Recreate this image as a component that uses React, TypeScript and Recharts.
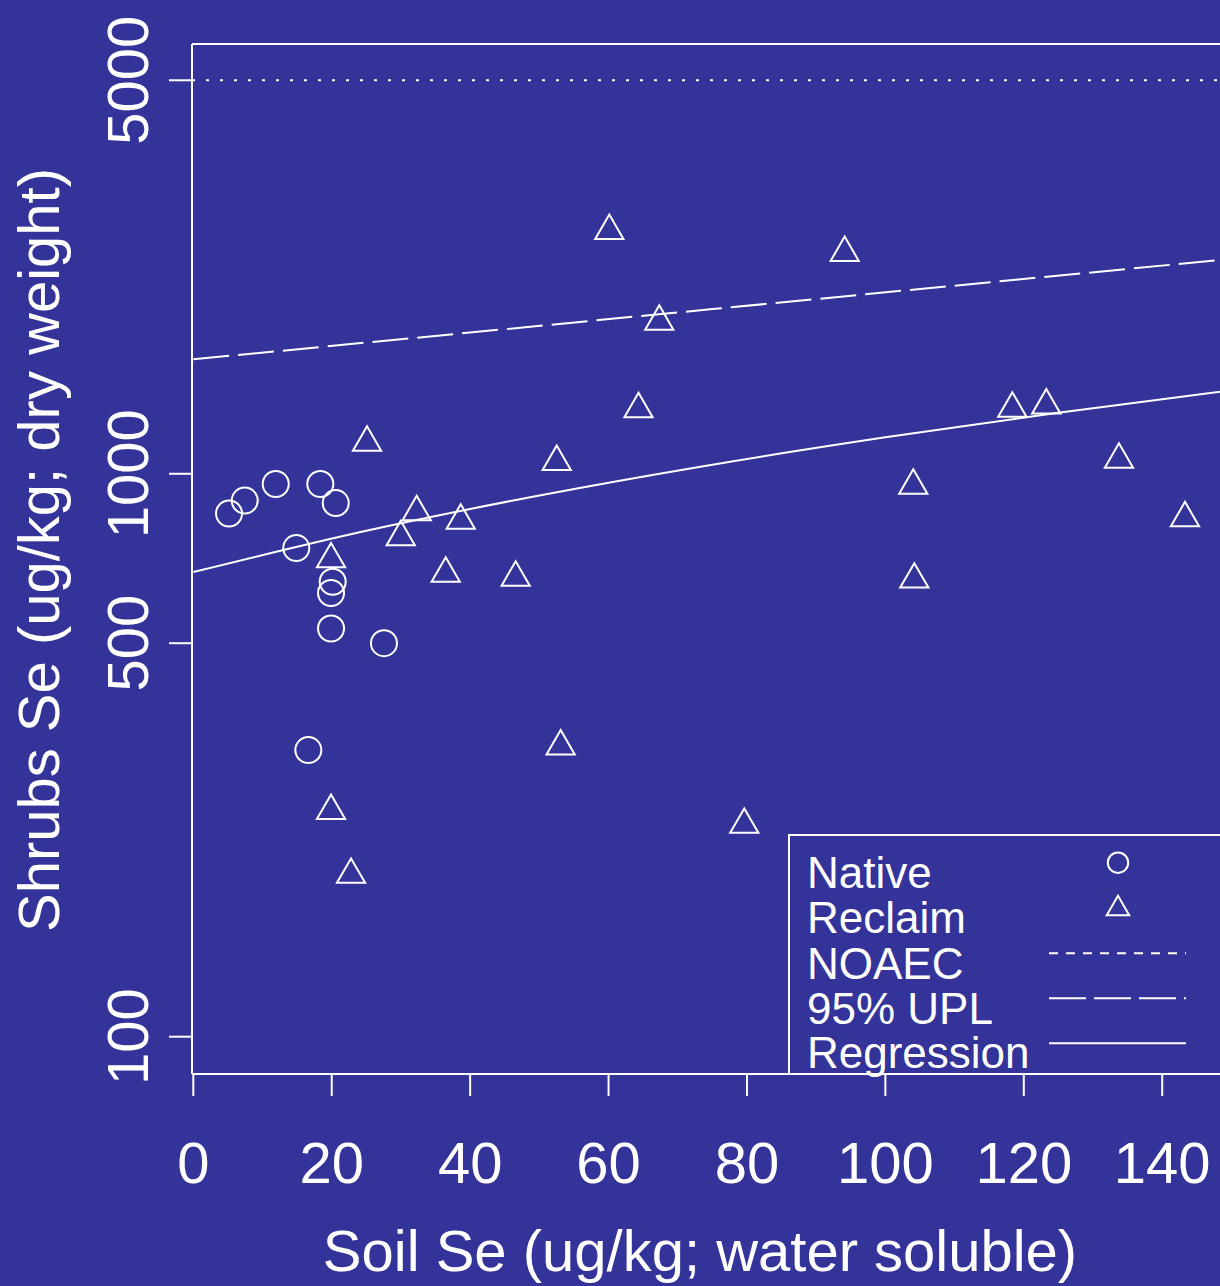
import React from "react";
import {
  ComposedChart,
  XAxis,
  YAxis,
  Scatter,
  Line,
  ReferenceLine,
  Customized,
} from "recharts";

// ---------- data ----------
const nativeX = [5.16, 7.43, 11.91, 18.35, 20.58, 14.88, 20.14, 19.9, 19.9, 27.55, 16.62];
const nativeY = [850, 896, 959, 959, 887, 738, 643, 614, 531, 500, 323];

const reclaimX = [
  60.11, 94.12, 67.33, 64.33, 25.1, 118.34, 123.25, 52.51, 133.75, 104.03, 32.28,
  38.64, 29.97, 19.9, 36.47, 46.58, 104.18, 143.29, 53.08, 19.9, 79.61, 22.79,
];
const reclaimY = [
  2702, 2468, 1863, 1303, 1136, 1306, 1323, 1050, 1060, 953, 855, 826, 772, 705, 665,
  654, 649, 834, 328, 252, 238, 194,
];

const regressionX = [0, 25, 50, 75, 100, 125, 151.2];
const regressionY = [669, 792, 915, 1038, 1161, 1284, 1413];

const uplX = [0, 75, 151.2];
const uplY = [1597, 1961, 2416];

const NOAEC = 5000;

const xTicks = [0, 20, 40, 60, 80, 100, 120, 140];
const yTicks = [100, 500, 1000, 5000];

const X_DOMAIN: [number, number] = [-0.19, 151.24];
const Y_DOMAIN: [number, number] = [85.85, 5800];

const legendLabels = ["Native", "Reclaim", "NOAEC", "95% UPL", "Regression"];

// ---------- styling ----------
const BG = "#333399";
const FG = "#ffffff";
const FONT = "'Liberation Sans', Arial, Helvetica, sans-serif";

const nativeData = nativeX.map((x, i) => ({ x, y: nativeY[i] }));
const reclaimData = reclaimX.map((x, i) => ({ x, y: reclaimY[i] }));
const regressionData = regressionX.map((x, i) => ({ x, y: regressionY[i] }));
const uplData = uplX.map((x, i) => ({ x, y: uplY[i] }));

const circleShape = (p: any) => (
  <circle cx={p.cx} cy={p.cy} r={13} fill="none" stroke={FG} strokeWidth={2} />
);

const triPoints = (cx: number, cy: number, r: number) =>
  `${cx},${cy - r} ${cx + r * 0.866},${cy + r / 2} ${cx - r * 0.866},${cy + r / 2}`;

const triangleShape = (p: any) => (
  <polygon
    points={triPoints(p.cx, p.cy, 16.3)}
    fill="none"
    stroke={FG}
    strokeWidth={2}
    strokeLinejoin="miter"
  />
);

const XTick = (p: any) => (
  <text
    x={p.x}
    y={1183}
    textAnchor="middle"
    fill={FG}
    fontSize={58}
    fontFamily={FONT}
  >
    {p.payload.value}
  </text>
);

const YTick = (p: any) => (
  <text
    x={148}
    y={p.y}
    transform={`rotate(-90 148 ${p.y})`}
    textAnchor="middle"
    fill={FG}
    fontSize={58}
    fontFamily={FONT}
  >
    {p.payload.value}
  </text>
);

const Decorations = () => {
  const baselines = [888, 933, 979, 1024, 1068];
  return (
    <g>
      {/* axis titles */}
      <text
        x={700}
        y={1271}
        textAnchor="middle"
        fill={FG}
        fontSize={58}
        fontFamily={FONT}
      >
        Soil Se (ug/kg; water soluble)
      </text>
      <text
        x={59}
        y={550}
        transform="rotate(-90 59 550)"
        textAnchor="middle"
        fill={FG}
        fontSize={58}
        fontFamily={FONT}
      >
        Shrubs Se (ug/kg; dry weight)
      </text>

      {/* legend */}
      <rect x={789} y={835} width={480} height={239} fill={BG} stroke={FG} strokeWidth={2} />
      {legendLabels.map((t, i) => (
        <text
          key={t}
          x={807}
          y={baselines[i]}
          fill={FG}
          fontSize={44}
          fontFamily={FONT}
        >
          {t}
        </text>
      ))}
      <circle cx={1118} cy={862.7} r={10.2} fill="none" stroke={FG} strokeWidth={2} />
      <polygon points={triPoints(1118, 908.7, 13)} fill="none" stroke={FG} strokeWidth={2} />
      <line x1={1049} x2={1186} y1={953.3} y2={953.3} stroke={FG} strokeWidth={2} strokeDasharray="9 8" />
      <line x1={1049} x2={1186} y1={998.3} y2={998.3} stroke={FG} strokeWidth={2} strokeDasharray="37 8" />
      <line x1={1049} x2={1186} y1={1043.3} y2={1043.3} stroke={FG} strokeWidth={2} />
    </g>
  );
};

export default function App() {
  return (
    <div
      style={{
        position: "absolute",
        left: 0,
        top: 0,
        width: 1220,
        height: 1286,
        overflow: "hidden",
        background: BG,
      }}
    >
      <ComposedChart
        width={1240}
        height={1286}
        margin={{ top: 44, right: 0, bottom: 0, left: 0 }}
        style={{ background: BG }}
      >
        <XAxis
          type="number"
          dataKey="x"
          domain={X_DOMAIN}
          allowDataOverflow
          ticks={xTicks}
          interval={0}
          height={212}
          axisLine={{ stroke: FG, strokeWidth: 2 }}
          tickLine={{ stroke: FG, strokeWidth: 2 }}
          tickSize={22}
          tick={XTick}
        />
        <YAxis
          type="number"
          dataKey="y"
          scale="log"
          domain={Y_DOMAIN}
          allowDataOverflow
          ticks={yTicks}
          interval={0}
          width={192}
          axisLine={{ stroke: FG, strokeWidth: 2 }}
          tickLine={{ stroke: FG, strokeWidth: 2 }}
          tickSize={23}
          tick={YTick}
        />
        {/* top border of plot box */}
        <ReferenceLine y={Y_DOMAIN[1]} stroke={FG} strokeWidth={2} ifOverflow="visible" />
        {/* NOAEC */}
        <ReferenceLine y={NOAEC} stroke={FG} strokeWidth={2} strokeDasharray="3 11" />
        <Line
          data={uplData}
          dataKey="y"
          type="linear"
          stroke={FG}
          strokeWidth={2}
          strokeDasharray="36 9"
          dot={false}
          activeDot={false}
          isAnimationActive={false}
        />
        <Line
          data={regressionData}
          dataKey="y"
          type="monotone"
          stroke={FG}
          strokeWidth={2}
          dot={false}
          activeDot={false}
          isAnimationActive={false}
        />
        <Scatter data={nativeData} shape={circleShape} isAnimationActive={false} />
        <Scatter data={reclaimData} shape={triangleShape} isAnimationActive={false} />
        <Customized component={<Decorations />} />
      </ComposedChart>
    </div>
  );
}
